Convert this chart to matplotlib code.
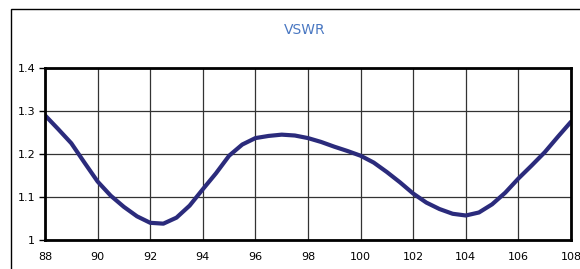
import matplotlib.pyplot as plt
from matplotlib.patches import Rectangle

freq = [88, 88.5, 89, 89.5, 90, 90.5, 91, 91.5, 92, 92.5, 93, 93.5, 94, 94.5,
        95, 95.5, 96, 96.5, 97, 97.5, 98, 98.5, 99, 99.5, 100, 100.5, 101,
        101.5, 102, 102.5, 103, 103.5, 104, 104.5, 105, 105.5, 106, 106.5,
        107, 107.5, 108]
vswr = [1.29, 1.258, 1.225, 1.18, 1.136, 1.103, 1.077, 1.055, 1.040, 1.038,
        1.052, 1.080, 1.118, 1.155, 1.196, 1.222, 1.237, 1.242, 1.245, 1.243,
        1.237, 1.228, 1.217, 1.207, 1.196, 1.180, 1.158, 1.134, 1.108, 1.087,
        1.072, 1.061, 1.057, 1.064, 1.083, 1.110, 1.143, 1.173, 1.204, 1.240,
        1.275]
xticks = list(range(88, 109, 2))
yticks = [1, 1.1, 1.2, 1.3, 1.4]
ylabels = ["1", "1.1", "1.2", "1.3", "1.4"]

fig = plt.figure(figsize=(5.8, 2.69), dpi=100)
fig.patches.append(Rectangle((11 / 580, -0.2), 1.0, 1.2 - 9 / 269,
                             transform=fig.transFigure, fill=False,
                             edgecolor="black", linewidth=1.0))
ax = fig.add_axes([45 / 580, 29 / 269, 526 / 580, 172 / 269])

ax.plot(freq, vswr, color="#2b2b7c", linewidth=3.0, solid_capstyle="round")
ax.set_xlim(88, 108)
ax.set_ylim(1, 1.4)
ax.set_xticks(xticks)
ax.set_yticks(yticks)
ax.set_yticklabels(ylabels)
ax.grid(True, color="#333333", linewidth=0.9)
ax.tick_params(axis="x", length=0, pad=9, labelsize=8)
ax.tick_params(axis="y", length=4, width=1, direction="out", pad=3, labelsize=8)
for s in ax.spines.values():
    s.set_linewidth(2)
    s.set_color("black")

fig.text(305 / 580, 1 - 30 / 269, "VSWR", color="#4a78c2", fontsize=10,
         ha="center", va="center")

fig.savefig("out.png", dpi=100)
